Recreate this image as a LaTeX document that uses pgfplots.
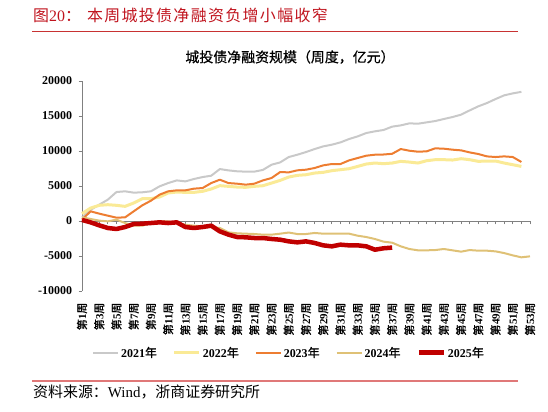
\documentclass[border=0pt]{standalone}
\usepackage{pgfplots}
\pgfplotsset{compat=1.18}
\usepackage{fontspec}
\setmainfont{Liberation Serif}
\newfontfamily\cjk{Noto Sans CJK SC}
\newfontfamily\cjkb[FakeBold=1.2]{Noto Sans CJK SC}
\newfontfamily\cjkm[FakeBold=0.6]{Noto Sans CJK SC}
\newfontfamily\cjktitle[LetterSpace=8.5]{Noto Sans CJK SC}
\definecolor{c2021}{RGB}{201,201,201}
\definecolor{c2022}{RGB}{250,234,150}
\definecolor{c2023}{RGB}{237,125,49}
\definecolor{c2024}{RGB}{223,193,118}
\definecolor{c2025}{RGB}{192,0,0}
\definecolor{axisgray}{RGB}{128,128,128}
\definecolor{titlered}{RGB}{192,20,30}
\definecolor{linered}{RGB}{200,50,50}
\definecolor{linepink}{RGB}{224,120,120}
\newcommand{\wk}[1]{{\cjkb 第}{\bfseries #1}{\cjkb 周}}
\newcommand{\yr}[1]{{\bfseries #1}{\cjkb 年}}
\begin{document}
\begin{tikzpicture}
\path[use as bounding box] (0,0) rectangle (548bp,412bp);
\begin{axis}[
 at={(82bp,121bp)}, anchor=south west,
 scale only axis, width=448bp, height=210bp,
 xmin=1, xmax=53, ymin=-10000, ymax=20000,
 enlargelimits=false, clip=false,
 scaled y ticks=false, scaled x ticks=false,
 axis x line=middle, axis y line=left,
 hide obscured x ticks=false, hide obscured y ticks=false,
 x axis line style={-, draw=axisgray, line width=0.8bp},
 y axis line style={-, draw=axisgray, line width=0.8bp},
 every tick/.style={axisgray, line width=0.8bp},
 major tick length=3.5bp, minor tick length=3.5bp,
 tick align=outside,
 xtick={1,3,...,53}, minor xtick={2,4,...,52},
 xticklabels={\wk{1},\wk{3},\wk{5},\wk{7},\wk{9},\wk{11},\wk{13},\wk{15},\wk{17},\wk{19},\wk{21},\wk{23},\wk{25},\wk{27},\wk{29},\wk{31},\wk{33},\wk{35},\wk{37},\wk{39},\wk{41},\wk{43},\wk{45},\wk{47},\wk{49},\wk{51},\wk{53}},
 xticklabel style={yshift=-78bp, rotate=90, anchor=east, inner sep=0pt, font=\fontsize{11}{11}\selectfont},
 ytick={-10000,-5000,0,5000,10000,15000,20000},
 yticklabels={-10000,-5000,0,5000,10000,15000,20000},
 yticklabel style={font=\fontsize{12}{12}\selectfont\bfseries, xshift=-3bp},
 legend columns=5,
 legend style={at={(axis description cs:0.462,-0.294)}, anchor=center, draw=none, fill=none,
   font=\fontsize{12}{12}\selectfont, /tikz/every even column/.append style={column sep=14bp}},
 legend image code/.code={\draw[#1] (0bp,0bp) -- (25bp,0bp);},
]
\addplot[c2021, line width=2bp, line join=round] coordinates {
(1,500)(2,1600)(3,2330)(4,3050)(5,4140)(6,4240)(7,4050)(8,4100)(9,4240)(10,4950)
(11,5420)(12,5800)(13,5660)(14,6000)(15,6280)(16,6470)(17,7420)(18,7230)(19,7100)(20,7050)
(21,7050)(22,7300)(23,8040)(24,8370)(25,9140)(26,9470)(27,9850)(28,10280)(29,10660)(30,10900)
(31,11230)(32,11710)(33,12090)(34,12570)(35,12810)(36,13000)(37,13480)(38,13660)(39,13950)(40,13900)
(41,14090)(42,14280)(43,14570)(44,14850)(45,15190)(46,15800)(47,16380)(48,16850)(49,17420)(50,17950)
(51,18230)(52,18450)};
\addlegendentry{\yr{2021}}
\addplot[c2022, line width=3bp, line join=round] coordinates {
(1,1050)(2,1850)(3,2240)(4,2330)(5,2240)(6,2090)(7,2570)(8,3190)(9,3190)(10,3430)
(11,4000)(12,4140)(13,4090)(14,4090)(15,4240)(16,4570)(17,5050)(18,4950)(19,4850)(20,4810)
(21,4950)(22,5040)(23,5420)(24,5800)(25,6280)(26,6520)(27,6610)(28,6850)(29,6950)(30,7190)
(31,7330)(32,7470)(33,7800)(34,8140)(35,8280)(36,8190)(37,8280)(38,8520)(39,8420)(40,8280)
(41,8610)(42,8760)(43,8760)(44,8710)(45,8900)(46,8760)(47,8520)(48,8570)(49,8570)(50,8280)
(51,8040)(52,7800)};
\addlegendentry{\yr{2022}}
\addplot[c2023, line width=2bp, line join=round] coordinates {
(1,200)(2,1380)(3,1050)(4,760)(5,475)(6,520)(7,1380)(8,2240)(9,2900)(10,3760)
(11,4240)(12,4380)(13,4380)(14,4620)(15,4710)(16,5420)(17,5900)(18,5420)(19,5330)(20,5190)
(21,5330)(22,5800)(23,6140)(24,6990)(25,6950)(26,7240)(27,7330)(28,7570)(29,7950)(30,8140)
(31,8140)(32,8660)(33,9000)(34,9330)(35,9470)(36,9500)(37,9600)(38,10280)(39,10040)(40,9900)
(41,9950)(42,10380)(43,10330)(44,10190)(45,10090)(46,9800)(47,9570)(48,9230)(49,9140)(50,9230)
(51,9140)(52,8430)};
\addlegendentry{\yr{2023}}
\addplot[c2024, line width=2bp, line join=round] coordinates {
(1,520)(2,290)(3,50)(4,-50)(5,190)(6,-290)(7,-670)(8,-670)(9,-290)(10,-50)
(11,-50)(12,-290)(13,-530)(14,-670)(15,-760)(16,-860)(17,-1000)(18,-1620)(19,-1760)(20,-1810)
(21,-1860)(22,-1950)(23,-1950)(24,-1810)(25,-1650)(26,-1860)(27,-1860)(28,-1710)(29,-1810)(30,-1810)
(31,-1810)(32,-1810)(33,-2100)(34,-2290)(35,-2570)(36,-2950)(37,-3100)(38,-3620)(39,-4000)(40,-4190)
(41,-4190)(42,-4150)(43,-4000)(44,-4190)(45,-4380)(46,-4150)(47,-4240)(48,-4240)(49,-4340)(50,-4580)
(51,-4910)(52,-5190)(53,-5050)};
\addlegendentry{\yr{2024}}
\addplot[c2025, line width=4.5bp, line join=round] coordinates {
(1,150)(2,-190)(3,-620)(4,-1000)(5,-1140)(6,-860)(7,-430)(8,-380)(9,-290)(10,-190)
(11,-290)(12,-190)(13,-860)(14,-1000)(15,-860)(16,-670)(17,-1480)(18,-1950)(19,-2290)(20,-2330)
(21,-2430)(22,-2430)(23,-2570)(24,-2670)(25,-2910)(26,-3050)(27,-2910)(28,-3140)(29,-3480)(30,-3620)
(31,-3380)(32,-3480)(33,-3480)(34,-3620)(35,-4100)(36,-3900)(37,-3800)};
\addlegendentry{\yr{2025}}
\end{axis}
\node[anchor=west, inner sep=0pt, text=titlered, font=\fontsize{16}{16}\selectfont] at (33bp,397bp) {{\cjk 图}20{\cjk ：}\hspace{6bp}{\cjktitle 本周城投债净融资负增小幅收窄}};
\draw[linered, line width=0.9bp] (32bp,381bp) -- (518bp,381bp);
\node[anchor=center, inner sep=0pt, font=\fontsize{14}{14}\selectfont] at (290bp,355bp) {\cjkm 城投债净融资规模（周度，亿元）};
\draw[linepink, line width=1.5bp] (32bp,31bp) -- (518bp,31bp);
\node[anchor=west, inner sep=0pt, font=\fontsize{15}{15}\selectfont] at (33bp,20bp) {{\cjk 资料来源：}Wind{\cjk ，浙商证券研究所}};
\end{tikzpicture}
\end{document}
